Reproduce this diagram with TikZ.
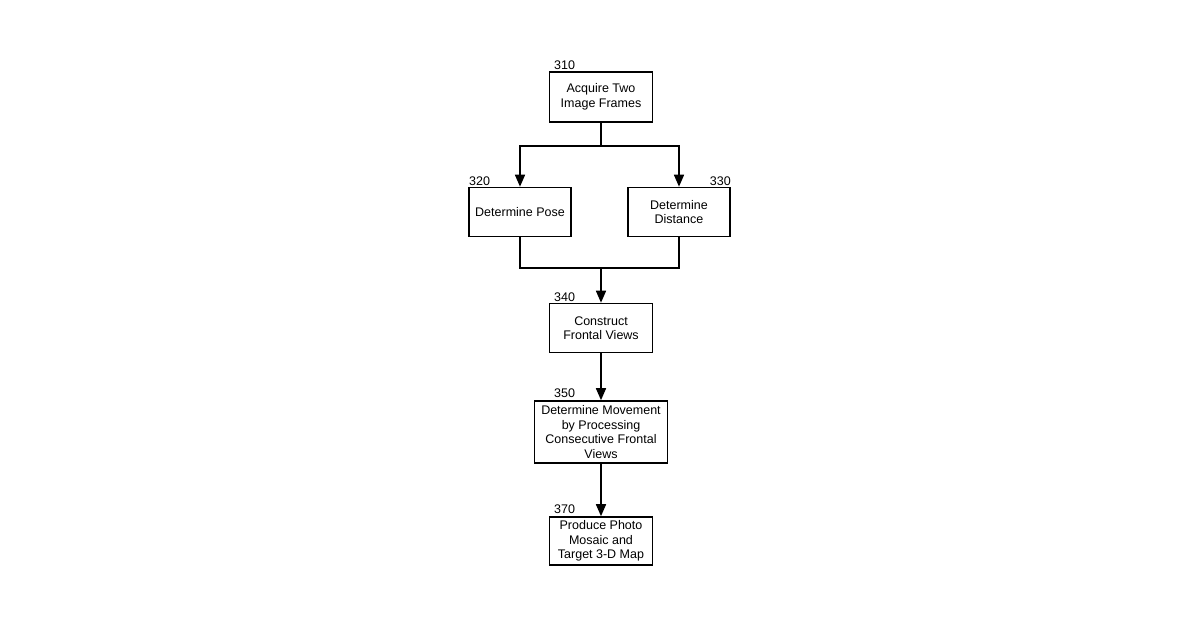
\documentclass[tikz,border=0pt]{standalone}
\usepackage{fontspec}
\setmainfont{Liberation Sans}
\usetikzlibrary{arrows.meta}
\begin{document}
\begin{tikzpicture}[x=1pt,y=-1pt,
  box/.style={draw,line width=1.6pt,align=center,inner sep=0pt,font=\fontsize{12.5}{14.5}\selectfont},
  lab/.style={font=\fontsize{12.5}{14}\selectfont,inner sep=0pt},
  arr/.style={line width=1.6pt,-{Triangle[length=12pt,width=10pt]}},
  ln/.style={line width=1.6pt}]
\useasboundingbox (0,0) rectangle (1200,630);
\node[box,minimum width=103pt,minimum height=50pt] (b310) at (601,97) {Acquire Two\\Image Frames};
\node[box,minimum width=102pt,minimum height=49pt] (b320) at (520,212) {Determine Pose};
\node[box,minimum width=102pt,minimum height=49pt] (b330) at (679,212) {Determine\\Distance};
\node[box,minimum width=103pt,minimum height=49pt] (b340) at (601,328) {Construct\\Frontal Views};
\node[box,minimum width=133pt,minimum height=62pt] (b350) at (601,432) {Determine Movement\\by Processing\\Consecutive Frontal\\Views};
\node[box,minimum width=103pt,minimum height=48pt] (b370) at (601,541) {Produce Photo\\Mosaic and\\Target 3-D Map};
\node[lab,anchor=south west] (l310) at (554,70) {310};
\node[lab,anchor=south west] (l320) at (469,186) {320};
\node[lab,anchor=south east] (l330) at (731,186) {330};
\node[lab,anchor=south west] (l340) at (554,302) {340};
\node[lab,anchor=south west] (l350) at (554,398) {350};
\node[lab,anchor=south west] (l370) at (554,514) {370};
\coordinate (s) at (601,146);
\coordinate (m) at (601,268);
\draw[ln] (b310.south) -- (s);
\draw[arr] (s) -| (b320.north);
\draw[arr] (s) -| (b330.north);
\draw[ln] (b320.south) |- (m);
\draw[ln] (b330.south) |- (m);
\draw[arr] (m) -- (b340.north);
\draw[arr] (b340.south) -- (b350.north);
\draw[arr] (b350.south) -- (b370.north);
\end{tikzpicture}
\end{document}
